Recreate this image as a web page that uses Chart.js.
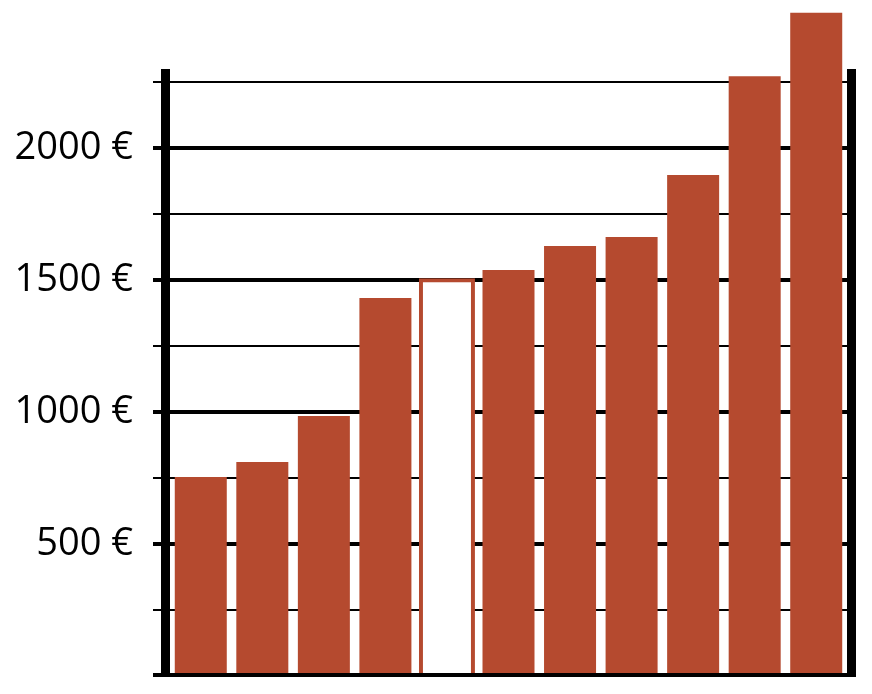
<!DOCTYPE html>
<html>
<head>
<meta charset="utf-8">
<script src="https://cdn.jsdelivr.net/npm/chart.js@4.4.1/dist/chart.umd.min.js"></script>
<style>
  html, body { margin: 0; padding: 0; background: #fff; }
  #wrap { width: 872px; height: 694px; position: relative; }
</style>
</head>
<body>
<div id="wrap"><canvas id="chart"></canvas></div>
<script>
// Values
var categories = ['1', '2', '3', '4', '5', '6', '7', '8', '9', '10', '11'];
var amounts = [754, 811, 985, 1432, 1500, 1538, 1629, 1663, 1898, 2273, 2513];
var highlightIndex = 4; // outlined bar
var yTickValues = [0, 250, 500, 750, 1000, 1250, 1500, 1750, 2000, 2250];
var yTickLabels = ['', '', '500 €', '', '1000 €', '', '1500 €', '', '2000 €', ''];
var yMax = 2300;

var barRed = '#b54a2f';

// thick frame: left / right axis bars and the base line, drawn on top of bars
var framePlugin = {
    id: 'frame',
    afterDatasetsDraw: function(chart) {
        var a = chart.chartArea;
        var c = chart.ctx;
        c.save();
        c.fillStyle = '#000';
        c.fillRect(a.left - 9, a.top, 9, a.bottom - a.top + 1);
        c.fillRect(a.right, a.top, 9, a.bottom - a.top + 1);
        c.fillRect(a.left - 17, a.bottom - 3, a.right + 9 - (a.left - 17), 4);
        c.restore();
    }
};

new Chart(document.getElementById('chart').getContext('2d'), {
    type: 'bar',
    data: {
        labels: categories,
        datasets: [{
            data: amounts,
            clip: false,
            backgroundColor: function(ctx) {
                return ctx.dataIndex === highlightIndex ? '#ffffff' : barRed;
            },
            borderColor: barRed,
            borderWidth: function(ctx) {
                return ctx.dataIndex === highlightIndex ? 4 : 0;
            },
            inflateAmount: function(ctx) {
                return ctx.dataIndex === highlightIndex ? 2 : 0;
            },
            barPercentage: 0.845,
            categoryPercentage: 1
        }]
    },
    options: {
        responsive: true,
        maintainAspectRatio: false,
        animation: false,
        layout: {
            padding: { top: 69, right: 25, bottom: 18, left: 0 }
        },
        plugins: {
            legend: { display: false },
            tooltip: { enabled: false }
        },
        scales: {
            x: {
                display: false
            },
            y: {
                min: 0,
                max: yMax,
                afterBuildTicks: function(scale) {
                    scale.ticks = yTickValues.map(function(v) { return { value: v }; });
                },
                afterFit: function(scale) {
                    scale.width = 170;
                    scale.paddingTop = 0;
                    scale.paddingBottom = 0;
                },
                border: { display: false },
                grid: {
                    color: function(ctx) {
                        return ctx.tick && ctx.tick.value === 0 ? 'rgba(0,0,0,0)' : '#000';
                    },
                    lineWidth: function(ctx) {
                        return ctx.tick && ctx.tick.value % 500 === 0 ? 4 : 2;
                    },
                    tickLength: 17
                },
                ticks: {
                    padding: 20,
                    color: '#000',
                    font: { family: 'Open Sans', size: 38 },
                    callback: function(value) {
                        var i = yTickValues.indexOf(value);
                        return i >= 0 ? yTickLabels[i] : '';
                    }
                }
            }
        }
    },
    plugins: [framePlugin]
});
</script>
</body>
</html>
